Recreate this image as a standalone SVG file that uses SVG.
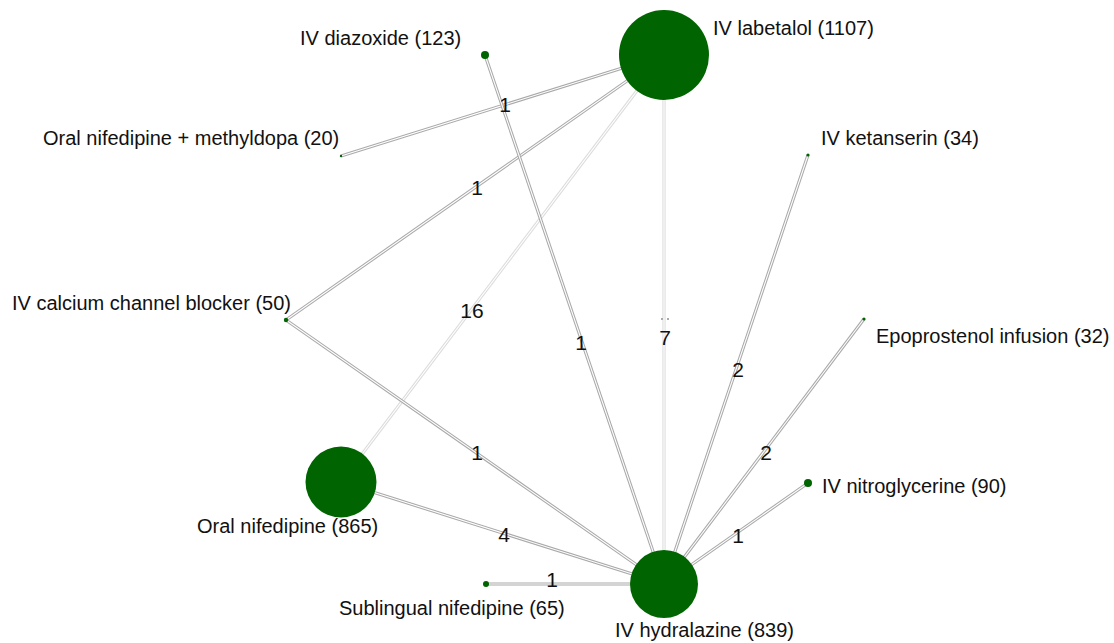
<svg xmlns="http://www.w3.org/2000/svg" width="1114" height="643" viewBox="0 0 1114 643">
<style>
  .e { fill: none; stroke: #a9a9a9; stroke-width: 3.2; }
  .ef { fill: none; stroke: #dcdcdc; stroke-width: 3.2; }
  .ei { fill: none; stroke: #ffffff; stroke-width: 1.1; }
  .n { fill: #006400; }
  .t { font-family: "Liberation Sans", Arial, sans-serif; font-size: 20px; fill: #111111; }
  .el { font-family: "Liberation Sans", Arial, sans-serif; font-size: 21px; fill: #111111; text-anchor: middle; dominant-baseline: central; }
</style>
<rect width="1114" height="643" fill="#ffffff"/>
<g id="connectors">
  <g id="edge-lab-methyl"><line class="e" x1="664" y1="55" x2="341" y2="156"/><line class="ei" x1="664" y1="55" x2="341" y2="156"/></g>
  <g id="edge-lab-ccb"><line class="e" x1="664" y1="55" x2="286" y2="320"/><line class="ei" x1="664" y1="55" x2="286" y2="320"/></g>
  <g id="edge-lab-oralnif"><line class="ef" x1="664" y1="55" x2="341" y2="482"/><line class="ei" x1="664" y1="55" x2="341" y2="482"/></g>
  <g id="edge-lab-hyd"><line class="ef" x1="664" y1="55" x2="664" y2="584"/><line class="ei" x1="664" y1="55" x2="664" y2="584"/></g>
  <g id="edge-diaz-hyd"><line class="e" x1="485" y1="55" x2="664" y2="584"/><line class="ei" x1="485" y1="55" x2="664" y2="584"/></g>
  <g id="edge-ccb-hyd"><line class="e" x1="286" y1="320" x2="664" y2="584"/><line class="ei" x1="286" y1="320" x2="664" y2="584"/></g>
  <g id="edge-ket-hyd"><line class="e" x1="808" y1="155" x2="664" y2="584"/><line class="ei" x1="808" y1="155" x2="664" y2="584"/></g>
  <g id="edge-epo-hyd"><line class="e" x1="864" y1="319" x2="664" y2="584"/><line class="ei" x1="864" y1="319" x2="664" y2="584"/></g>
  <g id="edge-nitro-hyd"><line class="e" x1="808" y1="483" x2="664" y2="584"/><line class="ei" x1="808" y1="483" x2="664" y2="584"/></g>
  <g id="edge-oralnif-hyd"><line class="e" x1="341" y1="482" x2="664" y2="584" stroke-width="4"/><line class="ei" x1="341" y1="482" x2="664" y2="584" stroke-width="1.6"/></g>
  <g id="edge-subl-hyd"><line class="e" x1="486" y1="584" x2="664" y2="584"/><line class="ei" x1="486" y1="584" x2="664" y2="584"/></g>
  <rect x="661" y="318" width="2" height="2" fill="#aaaaaa"/>
  <rect x="667" y="318" width="2" height="2" fill="#aaaaaa"/>
  <text class="el" x="505" y="104">1</text>
  <text class="el" x="477" y="187">1</text>
  <text class="el" x="472" y="310">16</text>
  <text class="el" x="665" y="337">7</text>
  <text class="el" x="581" y="342">1</text>
  <text class="el" x="477" y="452">1</text>
  <text class="el" x="738" y="369">2</text>
  <text class="el" x="766" y="452">2</text>
  <text class="el" x="738" y="535">1</text>
  <text class="el" x="504" y="534">4</text>
  <text class="el" x="552" y="579">1</text>
</g>
<g id="node-labetalol"><circle class="n" cx="664" cy="55" r="45"/><text class="t" x="713" y="35">IV labetalol (1107)</text></g>
<g id="node-diazoxide"><circle class="n" cx="485" cy="55" r="4"/><text class="t" x="300" y="45">IV diazoxide (123)</text></g>
<g id="node-methyldopa"><circle class="n" cx="341" cy="156" r="1.2"/><text class="t" x="43" y="145">Oral nifedipine + methyldopa (20)</text></g>
<g id="node-ketanserin"><circle class="n" cx="808" cy="155" r="1.6"/><text class="t" x="821" y="145">IV ketanserin (34)</text></g>
<g id="node-ccb"><circle class="n" cx="286" cy="320" r="2.2"/><text class="t" x="12" y="310">IV calcium channel blocker (50)</text></g>
<g id="node-epoprostenol"><circle class="n" cx="864" cy="319" r="1.6"/><text class="t" x="876" y="343">Epoprostenol infusion (32)</text></g>
<g id="node-oralnif"><circle class="n" cx="341" cy="482" r="35.5"/><text class="t" x="197" y="533">Oral nifedipine (865)</text></g>
<g id="node-nitro"><circle class="n" cx="808" cy="483" r="4"/><text class="t" x="822" y="493">IV nitroglycerine (90)</text></g>
<g id="node-sublingual"><circle class="n" cx="486" cy="584" r="3"/><text class="t" x="339" y="615">Sublingual nifedipine (65)</text></g>
<g id="node-hydralazine"><circle class="n" cx="664" cy="584" r="34"/><text class="t" x="615" y="637">IV hydralazine (839)</text></g>
</svg>
